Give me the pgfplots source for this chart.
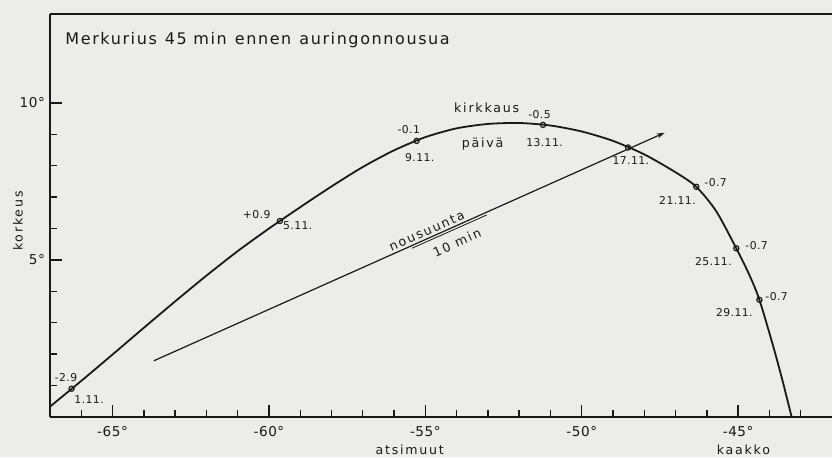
\documentclass[border=0pt]{standalone}
\usepackage{pgfplots}
\pgfplotsset{compat=1.18}
\usetikzlibrary{arrows.meta}
\usepackage{fontspec}
\setmainfont[LetterSpace=4]{DejaVu Sans}
\newfontfamily\wide[LetterSpace=14]{DejaVu Sans}
\newfontfamily\ttl[LetterSpace=10]{DejaVu Sans}
\definecolor{paper}{RGB}{236,236,234}
\definecolor{ink}{RGB}{25,25,25}

% kurvi: atsimuutti (aste), korkeus (aste)
\pgfplotstableread{
az     alt
-67.00 0.33
-66.00 1.15
-65.00 1.99
-64.00 2.84
-63.00 3.68
-62.00 4.50
-61.00 5.28
-60.00 6.00
-59.00 6.68
-58.00 7.34
-57.00 7.96
-56.00 8.49
-55.00 8.91
-54.00 9.19
-53.00 9.33
-52.00 9.36
-51.00 9.28
-50.00 9.09
-49.00 8.79
-48.00 8.36
-47.00 7.79
-46.34 7.33
-45.70 6.55
-45.06 5.37
-44.64 4.52
-44.32 3.73
-43.89 2.29
-43.58 1.15
-43.29 0.00
}\curve

% havaintopaivat 1.11.-29.11.
\pgfplotstableread{
az     alt
-66.31 0.90
-59.65 6.24
-55.28 8.79
-51.24 9.30
-48.52 8.58
-46.34 7.33
-45.06 5.37
-44.32 3.73
}\dates

\newcommand{\sm}{\fontsize{5.4}{6}\selectfont}
\newcommand{\wtxt}{\wide\fontsize{6.3}{7}\selectfont}

\begin{document}
\begin{tikzpicture}
\path[use as bounding box, fill=paper] (-25pt,-20pt) rectangle (391pt,208.5pt);
\begin{axis}[
    scale only axis,
    width=391pt, height=201.5pt,
    xmin=-67, xmax=-42,
    ymin=0, ymax=12.83,
    axis x line*=bottom,
    axis y line*=left,
    axis line style={ink, line width=0.9pt},
    clip=false,
    xtick={-65,-60,-55,-50,-45},
    xticklabels={-65°,-60°,-55°,-50°,-45°},
    minor xtick={-66,-64,-63,-62,-61,-59,-58,-57,-56,-54,-53,-52,-51,-49,-48,-47,-46,-44,-43},
    ytick={5,10},
    yticklabels={5°,10°},
    minor ytick={1,2,3,4,6,7,8,9},
    tick align=inside,
    major tick length=6pt,
    minor tick length=3.5pt,
    tick style={ink, line width=0.7pt},
    ticklabel style={font=\fontsize{6.8}{7}\selectfont, text=ink},
    xticklabel style={yshift=-1pt},
    yticklabel style={xshift=1pt},
  ]
  \draw[ink, line width=0.9pt] (rel axis cs:0,1) -- (rel axis cs:1,1);

  % nousuunta
  \addplot[ink, line width=0.6pt, -{Stealth[length=4pt,width=2.5pt]}]
    coordinates {(-63.68,1.79) (-47.35,9.05)};
  \addplot[ink, line width=0.4pt, yshift=-1.4pt]
    coordinates {(-55.43,5.46) (-53.04,6.52)};

  \addplot[ink, line width=0.9pt, smooth, tension=0.45] table[x=az, y=alt] {\curve};
  \addplot[ink, only marks, mark=o, mark size=1.3pt,
    mark options={fill=paper, line width=0.6pt}] table[x=az, y=alt] {\dates};

  \node[anchor=west, inner sep=0pt, text=ink, font=\ttl\fontsize{8}{9}\selectfont]
    at (axis cs:-66.52,12.0) {Merkurius\enspace 45 min\enspace ennen\enspace auringonnousua};

  \node[text=ink, font=\sm] at (axis cs:-66.49,1.27) {-2.9};
  \node[text=ink, font=\sm] at (axis cs:-65.75,0.57) {1.11.};
  \node[text=ink, font=\sm] at (axis cs:-60.39,6.43) {+0.9};
  \node[text=ink, font=\sm] at (axis cs:-59.08,6.08) {5.11.};
  \node[text=ink, font=\sm] at (axis cs:-55.53,9.14) {-0.1};
  \node[text=ink, font=\sm] at (axis cs:-55.18,8.25) {9.11.};
  \node[text=ink, font=\wtxt] at (axis cs:-53.04,9.84) {kirkkaus};
  \node[text=ink, font=\sm] at (axis cs:-51.35,9.62) {-0.5};
  \node[text=ink, font=\wtxt] at (axis cs:-53.17,8.69) {päivä};
  \node[text=ink, font=\sm] at (axis cs:-51.19,8.73) {13.11.};
  \node[text=ink, font=\sm] at (axis cs:-48.43,8.15) {17.11.};
  \node[text=ink, font=\sm] at (axis cs:-45.72,7.45) {-0.7};
  \node[text=ink, font=\sm] at (axis cs:-46.94,6.88) {21.11.};
  \node[text=ink, font=\sm] at (axis cs:-44.41,5.45) {-0.7};
  \node[text=ink, font=\sm] at (axis cs:-45.79,4.94) {25.11.};
  \node[text=ink, font=\sm] at (axis cs:-43.77,3.82) {-0.7};
  \node[text=ink, font=\sm] at (axis cs:-45.12,3.31) {29.11.};

  \node[text=ink, font=\wtxt, rotate=24, anchor=south, inner sep=1.2pt]
    at (axis cs:-54.86,5.71) {nousuunta};
  \node[text=ink, font=\wtxt, rotate=24, anchor=north, inner sep=1.2pt]
    at ([yshift=-8pt]axis cs:-54.09,6.29) {10 min};

  \node[text=ink, font=\wtxt] at ([yshift=-16.5pt]axis cs:-55.5,0) {atsimuut};
  \node[text=ink, font=\wtxt] at ([yshift=-16.5pt]axis cs:-44.83,0) {kaakko};
  \node[text=ink, font=\wtxt, rotate=90] at ([xshift=-16pt]axis cs:-67,6.24) {korkeus};
\end{axis}
\end{tikzpicture}
\end{document}
